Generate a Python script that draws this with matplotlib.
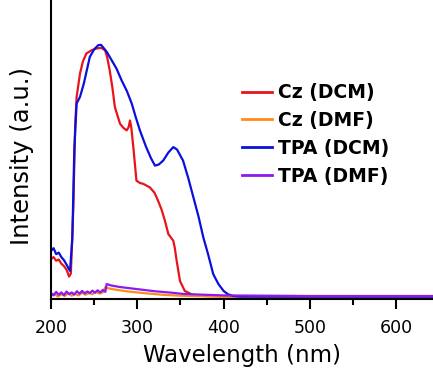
import matplotlib
matplotlib.use('Agg')
import matplotlib.pyplot as plt
from matplotlib.ticker import MultipleLocator

plt.rcParams['font.family'] = ['DejaVu Sans']

# Cz (DCM)
cz_dcm_x = [200, 203, 206, 209, 212, 215, 218, 221, 223, 225.8, 228, 229.7, 233.6, 237, 241, 247, 253,
            258, 262.6, 265, 268, 271, 274, 280, 284, 287.7, 290, 291.5, 293, 295.4, 299, 303, 307,
            314.7, 320, 324, 328, 332, 336, 341.7, 343.5, 345.6, 349.5, 355, 365, 380, 400, 450, 500, 550, 600, 650]
cz_dcm_y = [0.134, 0.14, 0.128, 0.132, 0.118, 0.11, 0.098, 0.075, 0.085, 0.3, 0.58, 0.676, 0.754, 0.795, 0.821, 0.832, 0.838,
            0.84, 0.832, 0.81, 0.765, 0.71, 0.642, 0.586, 0.572, 0.564, 0.575, 0.597, 0.575, 0.508, 0.396, 0.388, 0.385,
            0.373, 0.355, 0.329, 0.3, 0.262, 0.217, 0.195, 0.17, 0.128, 0.06, 0.027, 0.013, 0.01, 0.009, 0.008, 0.008, 0.008, 0.008, 0.008]

# TPA (DCM)
tpa_dcm_x = [200, 203, 206, 209, 212, 215, 218, 222, 224.7, 227, 229.7, 233.6, 238, 245, 250, 254.8, 258,
             264.5, 270, 276, 282, 288, 293.5, 298, 303, 310, 316, 320.5, 325, 330, 336, 341.7, 346, 353,
             359, 365, 371, 376.5, 382, 388, 394, 400, 405, 411, 420, 450, 500, 550, 600, 650]
tpa_dcm_y = [0.161, 0.17, 0.15, 0.155, 0.14, 0.13, 0.115, 0.094, 0.2, 0.5, 0.654, 0.676, 0.72, 0.81, 0.835, 0.849, 0.85,
             0.827, 0.8, 0.77, 0.73, 0.695, 0.654, 0.61, 0.564, 0.51, 0.47, 0.446, 0.45, 0.463, 0.49, 0.508, 0.5, 0.463,
             0.405, 0.34, 0.275, 0.206, 0.15, 0.083, 0.05, 0.027, 0.016, 0.01, 0.008, 0.008, 0.008, 0.008, 0.008, 0.008]

# Cz (DMF)
cz_dmf_x = [200, 204, 208, 212, 216, 220, 224, 228, 232, 236, 240, 244, 248, 252, 256, 260, 263, 266,
            275, 290, 310, 330, 350, 380, 400, 450, 500, 550, 600, 650]
cz_dmf_y = [0.012, 0.018, 0.008, 0.016, 0.01, 0.02, 0.011, 0.017, 0.012, 0.021, 0.014, 0.02, 0.016, 0.024, 0.018, 0.022, 0.04, 0.036,
            0.031, 0.025, 0.019, 0.014, 0.011, 0.009, 0.008, 0.008, 0.008, 0.008, 0.008, 0.008]

# TPA (DMF)
tpa_dmf_x = [200, 203, 206, 209, 212, 215, 218, 221, 224, 227, 230, 233, 236, 239, 242, 245, 248, 251, 254,
             257, 260, 263, 264.5, 270, 280, 300, 320, 340, 353, 380, 400, 450, 500, 550, 600, 650]
tpa_dmf_y = [0.02, 0.012, 0.024, 0.014, 0.022, 0.013, 0.025, 0.016, 0.022, 0.015, 0.026, 0.018, 0.027, 0.019, 0.025, 0.02, 0.028,
             0.021, 0.029, 0.022, 0.03, 0.024, 0.05, 0.045, 0.04, 0.033, 0.026, 0.021, 0.017, 0.014, 0.012, 0.011, 0.01, 0.01, 0.01, 0.01]

series = [
    ('Cz (DCM)', cz_dcm_x, cz_dcm_y, '#e8141c'),
    ('Cz (DMF)', cz_dmf_x, cz_dmf_y, '#ff8c1a'),
    ('TPA (DCM)', tpa_dcm_x, tpa_dcm_y, '#0a10dc'),
    ('TPA (DMF)', tpa_dmf_x, tpa_dmf_y, '#8a1af0'),
]

fig = plt.figure(figsize=(4.33, 3.74), dpi=100)
ax = fig.add_axes([51 / 433, 75 / 374, 382 / 433, 299 / 374])

for name, xs, ys, col in series:
    ax.plot(xs, ys, color=col, lw=1.6, label=name)

ax.set_xlim(200, 200 + 382 / 0.863)
ax.set_ylim(0, 1.0)
ax.spines['top'].set_visible(False)
ax.spines['right'].set_visible(False)
ax.spines['left'].set_linewidth(1.5)
ax.spines['bottom'].set_linewidth(1.5)
ax.set_yticks([])
ax.xaxis.set_major_locator(MultipleLocator(100))
ax.xaxis.set_minor_locator(MultipleLocator(50))
ax.tick_params(axis='x', which='major', length=7.5, width=1.5, labelsize=12.5, pad=7)
ax.tick_params(axis='x', which='minor', length=4.5, width=1.5)

ax.set_xlabel('Wavelength (nm)', fontsize=16.5, labelpad=5)
ax.set_ylabel('Intensity (a.u.)', fontsize=17.5)
ax.yaxis.set_label_coords(-0.045, 0.478)

leg = ax.legend(loc='upper left', bbox_to_anchor=(0.5, 0.722), frameon=False,
                prop={'weight': 'bold', 'size': 13.5}, handlelength=1.6,
                handletextpad=0.3, labelspacing=0.47, borderaxespad=0, borderpad=0)
for line in leg.get_lines():
    line.set_linewidth(2)

fig.savefig('out.png', dpi=100)
